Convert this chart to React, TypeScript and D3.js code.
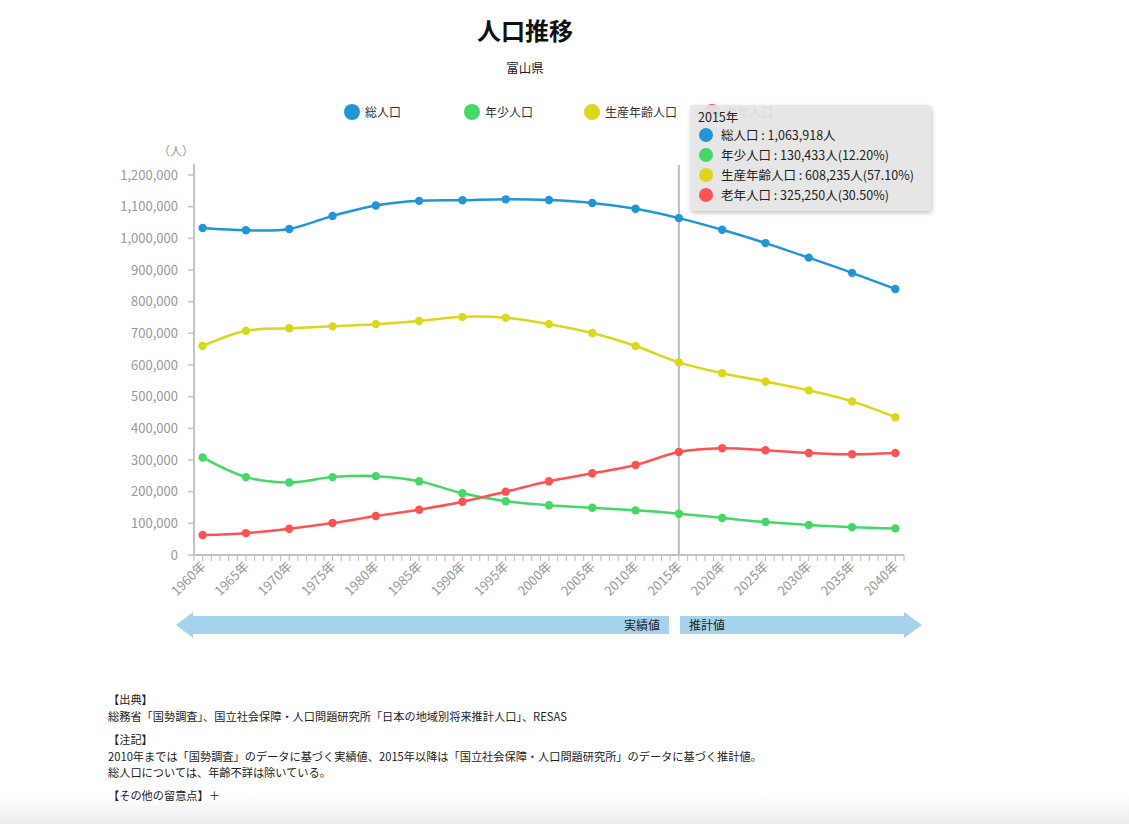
import React from "react";
import * as d3 from "d3";

const years = [1960, 1965, 1970, 1975, 1980, 1985, 1990, 1995, 2000, 2005, 2010, 2015, 2020, 2025, 2030, 2035, 2040];
const total = [1032614, 1025465, 1029695, 1070791, 1103459, 1118369, 1120161, 1123125, 1120851, 1111729, 1093247, 1063918, 1027000, 985000, 939000, 891000, 840000];
const young = [308000, 246000, 229000, 246000, 249000, 233000, 195000, 170000, 157000, 149000, 141000, 130433, 117000, 104000, 95000, 88000, 84000];
const working = [660000, 708000, 716000, 722000, 729000, 739000, 752000, 749000, 729000, 701000, 660000, 608235, 574000, 548000, 520000, 485000, 435000];
const elderly = [63000, 69000, 83000, 101000, 123000, 143000, 168000, 200000, 233000, 258000, 284000, 325250, 337000, 331000, 322000, 318000, 322000];

const seriesNames = ["総人口", "年少人口", "生産年齢人口", "老年人口"];
const seriesColors = ["#2196d6", "#44d966", "#dcd61c", "#ff5252"];
const yTicks = [0, 100000, 200000, 300000, 400000, 500000, 600000, 700000, 800000, 900000, 1000000, 1100000, 1200000];
const tooltipLines = ["総人口 : 1,063,918人", "年少人口 : 130,433人(12.20%)", "生産年齢人口 : 608,235人(57.10%)", "老年人口 : 325,250人(30.50%)"];
const notes = [
  { t: "【出典】", y: 704 },
  { t: "総務省「国勢調査」、国立社会保障・人口問題研究所「日本の地域別将来推計人口」、RESAS", y: 721 },
  { t: "【注記】", y: 744 },
  { t: "2010年までは「国勢調査」のデータに基づく実績値、2015年以降は「国立社会保障・人口問題研究所」のデータに基づく推計値。", y: 761 },
  { t: "総人口については、年齢不詳は除いている。", y: 777 },
  { t: "【その他の留意点】＋", y: 800 },
];

const font = "'Noto Sans CJK JP', 'Noto Sans', sans-serif";

export default function App() {
  const W = 1129, H = 824;
  const x = d3.scaleLinear().domain([1959, 2041]).range([194, 904]);
  const y = d3.scaleLinear().domain([0, 1200000]).range([555, 175]);
  const all = [total, young, working, elderly];
  const lineGen = d3
    .line<number>()
    .x((_, i) => x(years[i]))
    .y((d) => y(d))
    .curve(d3.curveCatmullRom.alpha(0.5));
  const minorYears = d3.range(1959, 2042);
  const fmt = d3.format(",");
  const arrowY = 625;

  return (
    <svg width={W} height={H} style={{ position: "fixed", left: 0, top: 0, fontFamily: font }}>
      <defs>
        <linearGradient id="bottomFade" x1="0" y1="0" x2="0" y2="1">
          <stop offset="0%" stopColor="#ffffff" />
          <stop offset="100%" stopColor="#ececec" />
        </linearGradient>
        <filter id="tipShadow" x="-10%" y="-10%" width="120%" height="130%">
          <feDropShadow dx="1" dy="2" stdDeviation="2" floodColor="#000" floodOpacity="0.25" />
        </filter>
      </defs>
      <rect x={0} y={0} width={W} height={H} fill="#fff" />
      <rect x={0} y={796} width={W} height={28} fill="url(#bottomFade)" />

      <text x={525} y={40} textAnchor="middle" fontSize={24} fontWeight="bold" fill="#111">人口推移</text>
      <text x={525} y={73} textAnchor="middle" fontSize={12.5} fill="#222">富山県</text>

      {/* legend */}
      {seriesNames.map((n, i) => (
        <g key={n} transform={`translate(${352 + i * 120},112)`}>
          <circle r={8} fill={seriesColors[i]} />
          <text x={13} y={4.5} fontSize={12} fill="#333">{n}</text>
        </g>
      ))}

      {/* y axis */}
      <text x={176} y={156} textAnchor="middle" fontSize={12} fill="#999">（人）</text>
      <line x1={194} x2={194} y1={164} y2={555} stroke="#c4c4c4" strokeWidth={2} />
      {yTicks.map((t) => (
        <g key={t} transform={`translate(0,${y(t)})`}>
          <line x1={188} x2={194} stroke="#c4c4c4" strokeWidth={1.5} />
          <text x={178} y={4.5} textAnchor="end" fontSize={13} fill="#999">{fmt(t)}</text>
        </g>
      ))}

      {/* x axis */}
      <line x1={193} x2={904} y1={555} y2={555} stroke="#c4c4c4" strokeWidth={2} />
      {minorYears.map((yr) => (
        <line key={yr} x1={x(yr)} x2={x(yr)} y1={555} y2={561} stroke="#c4c4c4" strokeWidth={1.2} />
      ))}
      {years.map((yr) => (
        <text
          key={yr}
          transform={`translate(${x(yr) + 4},${567}) rotate(-45)`}
          textAnchor="end"
          fontSize={13}
          fill="#999"
        >
          {yr}年
        </text>
      ))}

      {/* 2015 marker */}
      <line x1={x(2015)} x2={x(2015)} y1={165} y2={555} stroke="#bdbdbd" strokeWidth={2} />

      {/* series */}
      {all.map((s, i) => (
        <g key={i}>
          <path d={lineGen(s) || ""} fill="none" stroke={seriesColors[i]} strokeWidth={2.5} />
          {s.map((v, j) => (
            <circle key={j} cx={x(years[j])} cy={y(v)} r={4.2} fill={seriesColors[i]} />
          ))}
        </g>
      ))}

      {/* arrows */}
      <path
        d={`M176,${arrowY} L193,${arrowY - 13} L193,${arrowY - 9} L669,${arrowY - 9} L669,${arrowY + 9} L193,${arrowY + 9} L193,${arrowY + 13} Z`}
        fill="#a5d3ec"
      />
      <path
        d={`M680,${arrowY - 9} L904,${arrowY - 9} L904,${arrowY - 13} L922,${arrowY} L904,${arrowY + 13} L904,${arrowY + 9} L680,${arrowY + 9} Z`}
        fill="#a5d3ec"
      />
      <text x={660} y={arrowY + 4.5} textAnchor="end" fontSize={12} fill="#222">実績値</text>
      <text x={689} y={arrowY + 4.5} fontSize={12} fill="#222">推計値</text>

      {/* tooltip */}
      <g filter="url(#tipShadow)">
        <rect x={690} y={105} width={241} height={106} rx={3} fill="#e6e6e6" fillOpacity={0.93} />
      </g>
      <text x={698} y={122} fontSize={12.5} fill="#222">2015年</text>
      {tooltipLines.map((t, i) => (
        <g key={t} transform={`translate(0,${135 + i * 20})`}>
          <circle cx={706} cy={0} r={7} fill={seriesColors[i]} />
          <text x={721} y={4.5} fontSize={12.5} fill="#222">{t}</text>
        </g>
      ))}

      {/* notes */}
      {notes.map((n) => (
        <text key={n.t} x={108} y={n.y} fontSize={11.2} fill="#222">{n.t}</text>
      ))}
    </svg>
  );
}
